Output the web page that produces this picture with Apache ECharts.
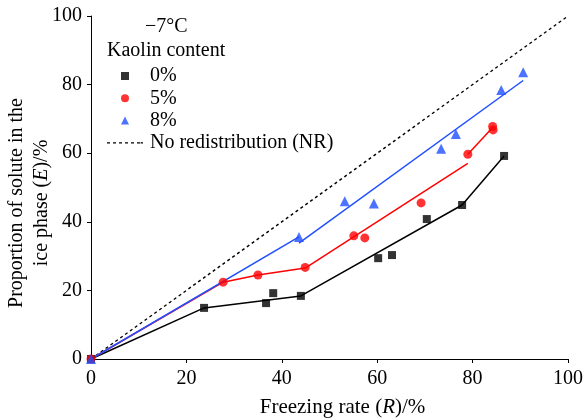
<!DOCTYPE html>
<html><head><meta charset="utf-8">
<script src="https://cdn.jsdelivr.net/npm/echarts@6/dist/echarts.min.js"></script>
<style>html,body{margin:0;padding:0;background:#fff}#c{width:585px;height:419px}</style>
</head><body><div id="c"></div>
<script>
// Measured points
const pts0 = [[0,0],[23.7,14.9],[36.7,16.3],[38.2,19.2],[44.0,18.4],[60.2,29.4],[63.1,30.3],[70.4,40.8],[77.8,44.9],[86.6,59.2]];
const pts5 = [[0,0],[27.7,22.4],[35.0,24.5],[44.9,26.7],[55.1,35.9],[57.4,35.3],[69.2,45.5],[79.0,59.7],[84.2,67.8],[84.3,66.8]];
const pts8 = [[0,0],[43.6,35.6],[53.2,46.0],[59.3,45.3],[73.4,61.3],[76.5,65.6],[86.0,78.4],[90.6,83.6]];
// Fit line pieces
const fit0 = [[0,0],[23.7,14.9],[44.0,18.4],[77.8,44.9],[86.6,59.2]];
const fit5a = [[0,0],[27.7,22.4],[35.0,24.5],[44.9,26.5]];
const fit5b = [[44.9,26.5],[79.0,57.0]];
const fit5c = [[79.0,59.7],[84.2,67.5]];
const fit8a = [[0,0],[43.6,35.6]];
const fit8b = [[43.6,33.8],[90.6,81.2]];
const nrLine = [[0,0],[100,100]];
const xTicks = [0,20,40,60,80,100];
const yTicks = [0,20,40,60,80,100];
const legendNames = ['0%','5%','8%','No redistribution (NR)'];

const FONT = '"Liberation Serif", "Times New Roman", serif';
const FS = 20;
const BLK = '#000', RED = '#ff0000', BLU = '#1f4fff';
const chart = echarts.init(document.getElementById('c'), null, {renderer:'canvas'});
function fitSeries(data, color){
  return {type:'line', data, symbol:'none', lineStyle:{color, width:1.5}, silent:true, z:2};
}
const txt = {fontFamily:FONT, fontSize:FS, color:BLK, fontWeight:'normal'};
const dashIcon = 'path://M0,0h3v1.4h-3z M6,0h3v1.4h-3z M12,0h3v1.4h-3z M18,0h3v1.4h-3z M24,0h3v1.4h-3z M30,0h3v1.4h-3z M33.6,0h2.4v1.4h-2.4z';
const richY = {
  n:{fontFamily:FONT, fontSize:FS, fill:BLK, color:BLK, lineHeight:25},
  i:{fontFamily:FONT, fontSize:FS, fontStyle:'italic', fill:BLK, color:BLK, lineHeight:25}
};
chart.setOption({
  animation:false,
  textStyle:{fontFamily:FONT, color:BLK},
  grid:{left:91, right:17, top:16, bottom:60, containLabel:false, outerBoundsMode:'none'},
  title:[
    {text:'\u22127\u00b0C', left:145, top:17, padding:0, textStyle:txt},
    {text:'Kaolin content', left:107, top:41, padding:0, textStyle:txt}
  ],
  graphic:[{
    type:'text', x:29.5, y:203, rotation:Math.PI/2,
    style:{
      text:'{n|Proportion of solute in the}\n{n|ice phase (}{i|E}{n|)/%}',
      rich:richY, align:'center', verticalAlign:'middle',
      fontFamily:FONT, fontSize:FS, fill:BLK
    }
  }],
  legend:{
    orient:'vertical', left:107, top:66, padding:0, itemWidth:36, itemHeight:8, itemGap:2.3,
    symbolKeepAspect:true,
    textStyle:{fontFamily:FONT, fontSize:FS, color:BLK, lineHeight:20, padding:[0,0,0,2]},
    data:[
      {name:legendNames[0], icon:'path://M0,0L10,0L10,10L0,10Z'},
      {name:legendNames[1], icon:'circle'},
      {name:legendNames[2], icon:'path://M5,0L10,10L0,10Z'},
      {name:legendNames[3], icon:dashIcon, itemStyle:{color:BLK, borderWidth:0}}
    ]
  },
  xAxis:{
    type:'value', min:xTicks[0], max:xTicks[xTicks.length-1], interval:20,
    axisLine:{lineStyle:{color:BLK, width:1}},
    axisTick:{inside:false, length:4, lineStyle:{color:BLK}},
    axisLabel:{fontFamily:FONT, fontSize:FS, color:BLK, margin:10},
    splitLine:{show:false},
    name:'{n|Freezing rate (}{i|R}{n|)/%}', nameLocation:'middle', nameGap:38,
    nameTextStyle:{padding:[0,0,0,26], rich:{n:{fontFamily:FONT, fontSize:21, color:BLK}, i:{fontFamily:FONT, fontSize:21, fontStyle:'italic', color:BLK}}}
  },
  yAxis:{
    type:'value', min:yTicks[0], max:yTicks[yTicks.length-1], interval:20,
    axisLine:{show:true, lineStyle:{color:BLK, width:1}},
    axisTick:{show:true, inside:false, length:4, lineStyle:{color:BLK}},
    axisLabel:{fontFamily:FONT, fontSize:FS, color:BLK, margin:9},
    splitLine:{show:false}
  },
  series:[
    {name:legendNames[3], type:'line', data:nrLine, symbol:'none', lineStyle:{color:BLK, width:1.4, type:[3,3]}, itemStyle:{color:BLK}, z:1},
    fitSeries(fit0, BLK),
    fitSeries(fit5a, RED), fitSeries(fit5b, RED), fitSeries(fit5c, RED),
    fitSeries(fit8a, BLU), fitSeries(fit8b, BLU),
    {name:legendNames[0], type:'scatter', data:pts0, symbol:'rect', symbolSize:8, itemStyle:{color:BLK}, z:5},
    {name:legendNames[1], type:'scatter', data:pts5, symbol:'circle', symbolSize:9, itemStyle:{color:RED}, z:5},
    {name:legendNames[2], type:'scatter', data:pts8, symbol:'triangle', symbolSize:10, itemStyle:{color:BLU}, z:5}
  ]
});
</script></body></html>
